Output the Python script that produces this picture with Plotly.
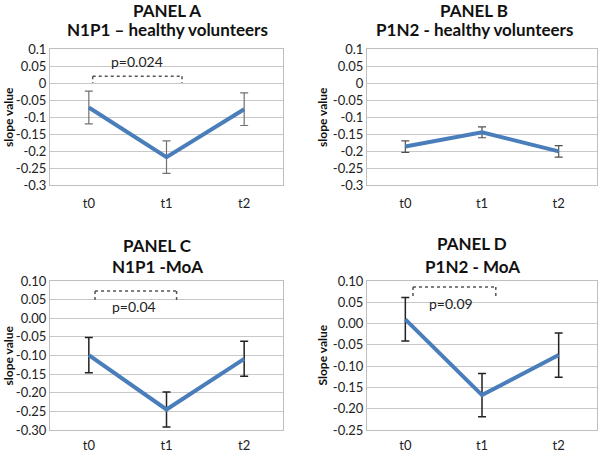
import plotly.graph_objects as go

categories = ["t0", "t1", "t2"]

a_vals = [-0.072, -0.218, -0.077]
a_err = [0.048, 0.048, 0.048]
b_vals = [-0.187, -0.145, -0.201]
b_err = [0.017, 0.016, 0.017]
c_vals = [-0.099, -0.245, -0.109]
c_err = [0.047, 0.047, 0.047]
d_vals = [0.01, -0.168, -0.074]
d_err = [0.051, 0.051, 0.052]

ab_tickvals = [0.1, 0.05, 0, -0.05, -0.1, -0.15, -0.2, -0.25, -0.3]
ab_ticktext = ["0.1", "0.05", "0", "-0.05", "-0.1", "-0.15", "-0.2", "-0.25", "-0.3"]
c_tickvals = [0.10, 0.05, 0.0, -0.05, -0.10, -0.15, -0.20, -0.25, -0.30]
c_ticktext = ["0.10", "0.05", "0.00", "-0.05", "-0.10", "-0.15", "-0.20", "-0.25", "-0.30"]
d_tickvals = [0.10, 0.05, 0.0, -0.05, -0.10, -0.15, -0.20, -0.25]
d_ticktext = ["0.10", "0.05", "0.00", "-0.05", "-0.10", "-0.15", "-0.20", "-0.25"]

FONT = "Lato"
LINE = "#4a7ebb"

panels = [
    dict(vals=a_vals, err=a_err, ax="", x=[50, 283], y=[49, 185], rng=[-0.3, 0.1],
         tv=ab_tickvals, tt=ab_ticktext, ecol="#707070", ew=1.2, so=6,
         t1="PANEL A", t2="N1P1 \u2013 healthy volunteers", tx=167, ty=[10.5, 30],
         ytitle="slope value", ytx=8,
         br=dict(x0=0.05, x1=1.2, ytop=0.02, ybot=0.0), p="p=0.024", px=0.62, py=0.062),
    dict(vals=b_vals, err=b_err, ax="2", x=[367, 597], y=[49, 185], rng=[-0.3, 0.1],
         tv=ab_tickvals, tt=ab_ticktext, ecol="#505050", ew=1.2, so=6,
         t1="PANEL B", t2="P1N2 - healthy volunteers", tx=474, ty=[10.5, 30],
         ytitle="slope value", ytx=322, br=None),
    dict(vals=c_vals, err=c_err, ax="3", x=[50, 283], y=[281, 430], rng=[-0.3, 0.1],
         tv=c_tickvals, tt=c_ticktext, ecol="#222222", ew=1.5, so=3,
         t1="PANEL C", t2="N1P1 -MoA", tx=158, ty=[245, 266],
         ytitle="slope value", ytx=8,
         br=dict(x0=0.08, x1=1.13, ytop=0.073, ybot=0.044), p="p=0.04", px=0.58, py=0.031),
    dict(vals=d_vals, err=d_err, ax="4", x=[367, 597], y=[281, 430], rng=[-0.25, 0.1],
         tv=d_tickvals, tt=d_ticktext, ecol="#222222", ew=1.5, so=3,
         t1="PANEL D", t2="P1N2 - MoA", tx=472, ty=[244, 266],
         ytitle="Slope value", ytx=322,
         br=dict(x0=0.1, x1=1.18, ytop=0.086, ybot=0.061), p="p=0.09", px=0.6, py=0.046),
]

W, H = 600, 452
fig = go.Figure()
annotations = []
shapes = []

for p in panels:
    ax = p["ax"]
    xa = "x" + ax
    ya = "y" + ax
    fig.add_trace(go.Scatter(
        x=categories, y=p["vals"], mode="lines",
        line=dict(color=LINE, width=4),
        error_y=dict(type="data", array=p["err"], visible=True,
                     color=p["ecol"], thickness=p["ew"], width=4),
        xaxis=xa, yaxis=ya, showlegend=False, hoverinfo="skip"))
    xdom = [p["x"][0] / W, p["x"][1] / W]
    ydom = [1 - p["y"][1] / H, 1 - p["y"][0] / H]
    fig.update_layout(**{
        "xaxis" + ax: dict(domain=xdom, anchor=ya, type="category", range=[-0.5, 2.5],
                           automargin=False, showgrid=False, showline=True,
                           linecolor="#bfbfbf", linewidth=1, mirror=True, ticks="",
                           ticklabelstandoff=p["so"],
                           tickfont=dict(family=FONT, size=13, color="#222"),
                           fixedrange=True),
        "yaxis" + ax: dict(domain=ydom, anchor=xa, range=p["rng"], tickvals=p["tv"],
                           ticktext=p["tt"], automargin=False, showgrid=True,
                           gridcolor="#c8c8c8", gridwidth=1,
                           showline=True, linecolor="#bfbfbf", linewidth=1, mirror=True,
                           zeroline=False, ticks="", ticklen=0,
                           tickfont=dict(family=FONT, size=13, color="#222"), fixedrange=True),
    })
    for txt, ty in ((p["t1"], p["ty"][0]), (p["t2"], p["ty"][1])):
        annotations.append(dict(text="<b>" + txt + "</b>", x=p["tx"] / W, y=1 - ty / H,
                                xref="paper", yref="paper", showarrow=False,
                                xanchor="center", yanchor="middle", borderpad=0,
                                font=dict(family=FONT, size=17, color="#111")))
    annotations.append(dict(text="<b>" + p["ytitle"] + "</b>", x=p["ytx"] / W,
                            y=(ydom[0] + ydom[1]) / 2, xref="paper", yref="paper",
                            xanchor="center", yanchor="middle",
                            showarrow=False, textangle=-90,
                            font=dict(family=FONT, size=12, color="#111")))
    br = p["br"]
    if br:
        dash = dict(color="#555555", width=1.5, dash="dot")
        shapes.append(dict(type="line", xref=xa, yref=ya, x0=br["x0"], x1=br["x1"],
                           y0=br["ytop"], y1=br["ytop"], line=dash))
        shapes.append(dict(type="line", xref=xa, yref=ya, x0=br["x0"], x1=br["x0"],
                           y0=br["ytop"], y1=br["ybot"], line=dash))
        shapes.append(dict(type="line", xref=xa, yref=ya, x0=br["x1"], x1=br["x1"],
                           y0=br["ytop"], y1=br["ybot"], line=dash))
        annotations.append(dict(text=p["p"], x=p["px"], y=p["py"], xref=xa, yref=ya,
                                showarrow=False, xanchor="center", yanchor="middle",
                                font=dict(family=FONT, size=14, color="#222")))

fig.update_layout(width=W, height=H, margin=dict(l=0, r=0, t=0, b=0, autoexpand=False),
                  paper_bgcolor="white", plot_bgcolor="white",
                  annotations=annotations, shapes=shapes)

fig.write_html("out.html", config={"displayModeBar": False},
               post_script="document.body.style.margin='0';document.body.style.padding='0';")
